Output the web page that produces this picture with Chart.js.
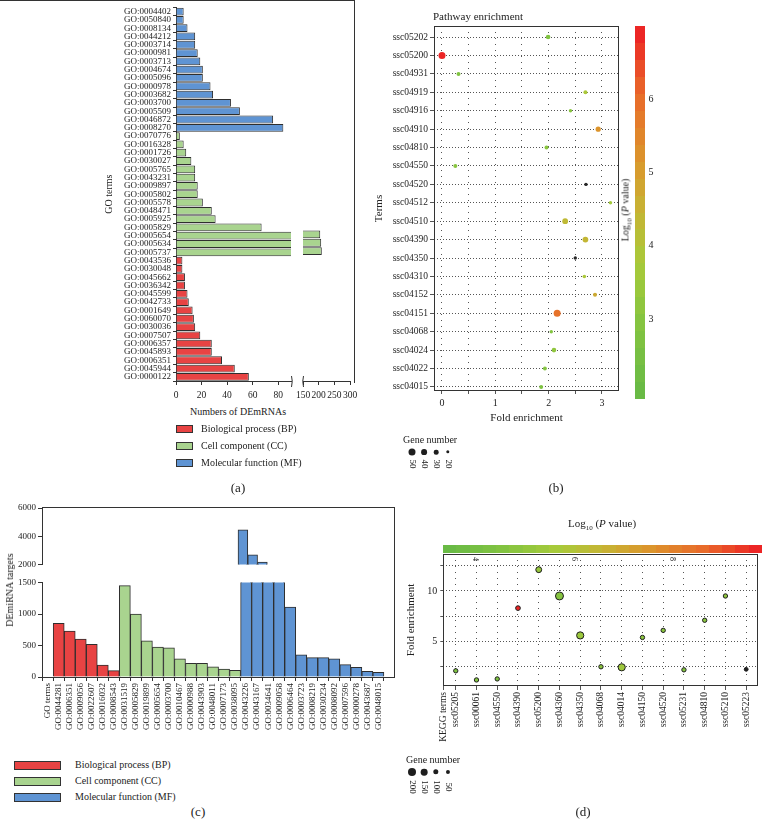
<!DOCTYPE html>
<html>
<head>
<meta charset="utf-8">
<title>GO and KEGG enrichment</title>
<script src="https://cdn.jsdelivr.net/npm/chart.js@4.4.1/dist/chart.umd.min.js"></script>
<style>
  body { margin: 0; background: #fff; }
  #page { position: relative; width: 763px; height: 820px; overflow: hidden; font-family: "Liberation Serif", serif; color: #222; }
  #page canvas { position: absolute; }
  .txt { position: absolute; white-space: nowrap; transform: translate(-50%, -50%); line-height: 1; }
  .left { transform: translate(0, -50%); }
  .vert { transform: translate(-50%, -50%) rotate(-90deg); }
  .down { transform: translate(-50%, -50%) rotate(90deg); }
  .sw { position: absolute; box-sizing: border-box; border: 1px solid #333; }
  .dot { position: absolute; border-radius: 50%; background: #1e1e1e; transform: translate(-50%, -50%); }
  .frame { position: absolute; box-sizing: border-box; border: 0 solid #333; }
  .bar { position: absolute; }
</style>
</head>
<body>
<div id="page">
  <div class="frame" style="left:0;top:0;width:355px;height:383px;border-top-width:1px;border-right-width:1px;"></div>
  <div class="frame" style="left:42px;top:507px;width:353px;height:171px;border-top-width:1px;border-right-width:1px;"></div>

  <canvas id="cA1" width="192" height="404" style="left:103px;top:0;"></canvas>
  <canvas id="cA2" width="64" height="404" style="left:294px;top:0;"></canvas>
  <canvas id="cB" width="257" height="425" style="left:373px;top:0;"></canvas>
  <canvas id="cC1" width="400" height="72" style="left:0;top:500px;"></canvas>
  <canvas id="cC2" width="400" height="182" style="left:0;top:575px;"></canvas>
  <canvas id="cD" width="358" height="215" style="left:405px;top:545px;"></canvas>

  <div id="barB" class="bar" style="left:635px;top:26px;width:10px;height:373px;"></div>
  <div id="barD" class="bar" style="left:443px;top:545px;width:319px;height:8px;"></div>
</div>

<script>
// ---------- (a) GO terms of DEmRNAs ----------
const mfTermsA = ["GO:0004402", "GO:0050840", "GO:0008134", "GO:0044212", "GO:0003714", "GO:0000981", "GO:0003713", "GO:0004674", "GO:0005096", "GO:0000978", "GO:0003682", "GO:0003700", "GO:0005509", "GO:0046872", "GO:0008270"];
const mfCountsA = [6, 6, 9, 15, 15, 17, 19, 21, 21, 27, 29, 43, 50, 76, 84];
const ccTermsA = ["GO:0070776", "GO:0016328", "GO:0001726", "GO:0030027", "GO:0005765", "GO:0043231", "GO:0009897", "GO:0005802", "GO:0005578", "GO:0048471", "GO:0005925", "GO:0005829", "GO:0005654", "GO:0005634", "GO:0005737"];
const ccCountsA = [3, 6, 8, 12, 15, 15, 17, 17, 21, 28, 31, 67, 205, 208, 210];
const bpTermsA = ["GO:0043536", "GO:0030048", "GO:0045662", "GO:0036342", "GO:0045599", "GO:0042733", "GO:0001649", "GO:0060070", "GO:0030036", "GO:0007507", "GO:0006357", "GO:0045893", "GO:0006351", "GO:0045944", "GO:0000122"];
const bpCountsA = [5, 5, 7, 7, 9, 10, 13, 14, 15, 19, 28, 28, 36, 46, 57];
const lowTicksA = [0, 20, 40, 60, 80];
const highTicksA = [150, 200, 250, 300];

// ---------- (b) KEGG pathways of DEmRNAs ----------
const pathwaysB = ["ssc05202", "ssc05200", "ssc04931", "ssc04919", "ssc04916", "ssc04910", "ssc04810", "ssc04550", "ssc04520", "ssc04512", "ssc04510", "ssc04390", "ssc04350", "ssc04310", "ssc04152", "ssc04151", "ssc04068", "ssc04024", "ssc04022", "ssc04015"];
const foldB = [1.99, 0, 0.31, 2.69, 2.41, 2.93, 1.96, 0.25, 2.7, 3.16, 2.31, 2.69, 2.5, 2.67, 2.87, 2.16, 2.05, 2.1, 1.93, 1.86];
const logPB = [2.8, 6.9, 2.8, 3.8, 3.0, 5.2, 3.0, 3.0, null, 3.6, 4.3, 4.4, null, 3.8, 4.7, 5.9, 2.9, 3.2, 2.9, 2.7];
const genesB = [30, 50, 25, 25, 20, 35, 25, 25, 20, 20, 40, 40, 20, 22, 25, 50, 20, 30, 24, 24];
const geneKeyB = [50, 40, 30, 20];
const colorTicksB = [3, 4, 5, 6];

// ---------- (c) GO terms of DEmiRNA targets ----------
const bpTermsC = ["GO:0044281", "GO:0006351", "GO:0009056", "GO:0022607", "GO:0016032", "GO:0008543"];
const bpCountsC = [850, 730, 600, 520, 190, 100];
const ccTermsC = ["GO:0031519", "GO:0005829", "GO:0019899", "GO:0005654", "GO:0003700", "GO:0010467", "GO:0000988", "GO:0043903", "GO:0048011", "GO:0007173", "GO:0038095"];
const ccCountsC = [1450, 1000, 575, 475, 462, 290, 218, 218, 162, 127, 105];
const mfTermsC = ["GO:0043226", "GO:0043167", "GO:0034641", "GO:0009058", "GO:0006464", "GO:0003723", "GO:0008219", "GO:0030234", "GO:0008092", "GO:0007596", "GO:0000278", "GO:0043687", "GO:0048015"];
const mfCountsC = [4450, 2690, 2170, 1800, 1110, 350, 308, 308, 287, 196, 154, 90, 75];

// ---------- (d) KEGG pathways of DEmiRNA targets ----------
const keggD = ["ssc05205", "ssc00061", "ssc04550", "ssc04390", "ssc05200", "ssc04360", "ssc04350", "ssc04068", "ssc04014", "ssc04150", "ssc04520", "ssc05231", "ssc04810", "ssc05210", "ssc05223"];
const foldD = [2.1, 1.2, 1.3, 8.3, 12.1, 9.5, 5.6, 2.5, 2.45, 5.4, 6.1, 2.2, 7.1, 9.5, 2.25];
const logPD = [4.4, 4.6, 4.3, 9.7, 5.2, 4.7, 5.3, 4.8, 5.4, 4.9, 4.8, 4.6, 4.8, 5.0, null];
const genesD = [60, 60, 60, 75, 120, 200, 170, 60, 170, 60, 60, 60, 60, 60, 40];
const geneKeyD = [200, 150, 100, 50];
const colorTicksD = [4, 6, 8];

const legendNames = ["Biological process (BP)", "Cell component (CC)", "Molecular function (MF)"];

const RED = "#e84343", GREEN = "#a9d48f", BLUE = "#5f94d3";
const EDGE = "#2e2e2e", AXIS = "#333";

Chart.defaults.font.family = "'Liberation Serif', serif";
Chart.defaults.color = "#222";
Chart.defaults.animation = false;
Chart.defaults.responsive = false;
Chart.defaults.plugins.legend.display = false;
Chart.defaults.plugins.tooltip.enabled = false;

// colour ramp of the P value bars
const rampStops = [[0, [102, 185, 70]], [0.2, [132, 196, 64]], [0.36, [168, 202, 58]], [0.5, [197, 181, 52]], [0.64, [219, 150, 44]], [0.82, [233, 105, 42]], [1, [236, 28, 36]]];
function rampColor(f) {
  f = Math.max(0, Math.min(1, f));
  for (let i = 1; i < rampStops.length; i++) {
    if (f <= rampStops[i][0]) {
      const a = rampStops[i - 1], b = rampStops[i];
      const t = (f - a[0]) / (b[0] - a[0]);
      return "rgb(" + a[1].map((c, k) => Math.round(c + (b[1][k] - c) * t)).join(",") + ")";
    }
  }
}
function stepGradient(dir, n) {
  const parts = [];
  for (let i = 0; i < n; i++) {
    const c = rampColor((i + 0.5) / n);
    parts.push(c + " " + (i * 100 / n) + "%", c + " " + ((i + 1) * 100 / n) + "%");
  }
  return "linear-gradient(" + dir + "," + parts.join(",") + ")";
}

const rangeB = [1.9, 7.0], rangeD = [3.34, 9.84];
const rB = n => 0.5 + n * 0.06;
const rD = n => 1.4 + n * 0.013;

const page = document.getElementById("page");
function put(html, x, y, size, cls) {
  const d = document.createElement("div");
  d.className = "txt " + (cls || "");
  d.style.left = x + "px";
  d.style.top = y + "px";
  d.style.fontSize = size + "px";
  d.innerHTML = html;
  page.appendChild(d);
}
function swatch(x, y, w, h, color) {
  const d = document.createElement("div");
  d.className = "sw";
  d.style.cssText = "left:" + x + "px;top:" + (y - h / 2) + "px;width:" + w + "px;height:" + h + "px;background:" + color;
  page.appendChild(d);
}
function dot(x, y, r) {
  const d = document.createElement("div");
  d.className = "dot";
  d.style.cssText = "left:" + x + "px;top:" + y + "px;width:" + (2 * r) + "px;height:" + (2 * r) + "px";
  page.appendChild(d);
}

const framePlugin = {
  id: "frame",
  afterDatasetsDraw(chart) {
    const { ctx, chartArea: a } = chart;
    ctx.save();
    ctx.strokeStyle = AXIS;
    ctx.lineWidth = 1;
    ctx.strokeRect(Math.round(a.left) + 0.5, Math.round(a.top) + 0.5, Math.round(a.right - a.left) - 1, Math.round(a.bottom - a.top) - 1);
    ctx.restore();
  }
};
function breakMark(side) {
  return {
    id: "brk" + side,
    afterDraw(chart) {
      const { ctx, chartArea: a } = chart;
      const x = Math.round(side === "right" ? a.right : a.left) + 0.5;
      ctx.save();
      ctx.strokeStyle = AXIS;
      ctx.beginPath();
      ctx.moveTo(x, a.bottom - 5);
      ctx.quadraticCurveTo(x + (side === "right" ? 1.5 : -1.5), a.bottom, x, a.bottom + 6);
      ctx.stroke();
      ctx.restore();
    }
  };
}

// ===== (a) =====
const termsA = [...mfTermsA, ...ccTermsA, ...bpTermsA];
const countsA = [...mfCountsA, ...ccCountsA, ...bpCountsA];
const colorsA = [...mfTermsA.map(() => BLUE), ...ccTermsA.map(() => GREEN), ...bpTermsA.map(() => RED)];
const xAxisA = (min, max, tickVals) => ({
  min: min, max: max,
  afterBuildTicks: s => { s.ticks = tickVals.map(v => ({ value: v })); },
  afterFit: s => { s.height = 23; s.paddingLeft = 0; s.paddingRight = 0; },
  ticks: { callback: v => String(v), font: { size: 9.5 }, padding: 5, maxRotation: 0, autoSkip: false },
  grid: { drawOnChartArea: false, tickLength: 4, color: AXIS },
  border: { color: AXIS }
});

new Chart(document.getElementById("cA1"), {
  type: "bar",
  data: { labels: termsA, datasets: [{ data: countsA, backgroundColor: colorsA, borderColor: EDGE, borderWidth: 1, barPercentage: 0.94, categoryPercentage: 1 }] },
  options: {
    indexAxis: "y",
    layout: { padding: { top: 4, right: 4 } },
    scales: {
      y: {
        afterFit: s => { s.width = 73; },
        ticks: { autoSkip: false, font: { size: 9 }, padding: 2 },
        grid: { drawOnChartArea: false, tickLength: 3, color: AXIS },
        border: { color: AXIS },
        title: { display: true, text: "GO terms", font: { size: 10 }, padding: 0 }
      },
      x: xAxisA(0, 90, lowTicksA)
    }
  },
  plugins: [breakMark("right")]
});

new Chart(document.getElementById("cA2"), {
  type: "bar",
  data: { labels: termsA, datasets: [{ data: countsA.map(v => v > 150 ? v : null), backgroundColor: colorsA, borderColor: EDGE, borderWidth: 1, barPercentage: 0.94, categoryPercentage: 1 }] },
  options: {
    indexAxis: "y",
    layout: { padding: { top: 4, left: 9, right: 8 } },
    scales: { y: { display: false }, x: xAxisA(150, 300, highTicksA) }
  },
  plugins: [breakMark("left")]
});

put("Numbers of DEmRNAs", 238, 412, 10);
[RED, GREEN, BLUE].forEach((c, i) => {
  swatch(176, 429 + i * 17, 17, 8, c);
  put(legendNames[i], 201, 429 + i * 17, 10, "left");
});
put("(a)", 238, 487, 13);

// ===== (b) =====
new Chart(document.getElementById("cB"), {
  type: "bubble",
  data: {
    datasets: [{
      data: pathwaysB.map((p, i) => ({ x: foldB[i], y: i, r: rB(genesB[i]) })),
      backgroundColor: logPB.map(v => v == null ? "#262626" : rampColor((v - rangeB[0]) / (rangeB[1] - rangeB[0]))),
      borderWidth: 0
    }]
  },
  options: {
    layout: { padding: { top: 26, right: 11 } },
    scales: {
      x: {
        type: "linear", min: -0.15, max: 3.32,
        afterBuildTicks: s => { s.ticks = [0, 0.5, 1, 1.5, 2, 2.5, 3].map(v => ({ value: v })); },
        afterFit: s => { s.height = 34; s.paddingLeft = 0; s.paddingRight = 0; },
        ticks: { callback: v => Number.isInteger(v) ? v : "", font: { size: 10 }, padding: 3, maxRotation: 0 },
        grid: { color: "#555", tickLength: 3 },
        border: { display: false, dash: [1, 5] },
        title: { display: true, text: "Fold enrichment", font: { size: 11 }, padding: { top: 2, bottom: 0 } }
      },
      y: {
        type: "linear", reverse: true, min: -0.6, max: 19.22,
        afterBuildTicks: s => { s.ticks = pathwaysB.map((p, i) => ({ value: i })); },
        afterFit: s => { s.width = 61; },
        ticks: { callback: v => pathwaysB[v], autoSkip: false, font: { size: 9.5 }, padding: 2 },
        grid: { color: "#555", tickLength: 4 },
        border: { display: false, dash: [1, 2] },
        title: { display: true, text: "Terms", font: { size: 11 }, padding: 0 }
      }
    }
  },
  plugins: [framePlugin]
});

put("Pathway enrichment", 433, 16, 11, "left");
document.getElementById("barB").style.background = stepGradient("to top", 22);
colorTicksB.forEach(v => put(String(v), 651, 399 - (v - rangeB[0]) / (rangeB[1] - rangeB[0]) * 373, 10));
put("Log<sub style='font-size:7px'>10</sub> (<i>P</i> value)", 627, 210, 10, "vert");
put("Gene number", 403, 440, 10, "left");
geneKeyB.forEach((n, i) => {
  dot(412 + i * 12, 452, rB(n));
  put(String(n), 412 + i * 12, 464, 9, "down");
});
put("(b)", 556, 487, 13);

// ===== (c) =====
const termsC = ["GO terms", ...bpTermsC, ...ccTermsC, ...mfTermsC];
const countsC = [...bpCountsC, ...ccCountsC, ...mfCountsC];
const colorsC = [...bpTermsC.map(() => RED), ...ccTermsC.map(() => GREEN), ...mfTermsC.map(() => BLUE)];
const xMaxC = 30.9;
const yAxisC = (min, max, step) => ({
  min: min, max: max,
  afterFit: s => { s.width = 42; },
  ticks: { stepSize: step, includeBounds: false, callback: v => String(v), font: { size: 9 }, padding: 2 },
  grid: { drawOnChartArea: false, tickLength: 4, color: AXIS },
  border: { color: AXIS }
});
const barSetC = vals => ({
  data: vals.map((v, i) => ({ x: i + 1, y: v })),
  backgroundColor: colorsC, borderColor: EDGE, borderWidth: 1,
  barPercentage: 1, categoryPercentage: 1
});

new Chart(document.getElementById("cC1"), {
  type: "bar",
  data: { datasets: [barSetC(countsC.map(v => v > 2000 ? v : null))] },
  options: {
    layout: { padding: { top: 8, right: 6, bottom: 2 } },
    scales: {
      x: { type: "linear", min: 0, max: xMaxC, display: false },
      y: yAxisC(2000, 6000, 2000)
    }
  }
});

new Chart(document.getElementById("cC2"), {
  type: "bar",
  data: { datasets: [barSetC(countsC)] },
  options: {
    layout: { padding: { top: 7.5, right: 6 } },
    scales: {
      x: {
        type: "linear", min: 0, max: xMaxC,
        afterBuildTicks: s => { s.ticks = termsC.map((t, i) => ({ value: i })); },
        afterFit: s => { s.height = 80; s.paddingLeft = 0; s.paddingRight = 0; },
        ticks: { callback: (v, i) => termsC[i], autoSkip: false, minRotation: 90, maxRotation: 90, font: { size: 9 }, padding: 2 },
        grid: { drawOnChartArea: false, tickLength: 4, color: AXIS },
        border: { color: AXIS }
      },
      y: yAxisC(0, 1500, 500)
    }
  }
});

put("DEmiRNA targets", 10, 590, 10, "vert");
[RED, GREEN, BLUE].forEach((c, i) => {
  swatch(14, 765 + i * 16, 47, 9, c);
  put(legendNames[i], 75, 765 + i * 16, 10, "left");
});
put("(c)", 198, 811, 13);

// ===== (d) =====
new Chart(document.getElementById("cD"), {
  type: "bubble",
  data: {
    datasets: [{
      data: keggD.map((k, i) => ({ x: i + 1, y: foldD[i], r: rD(genesD[i]) })),
      backgroundColor: logPD.map(v => v == null ? "#1e1e1e" : rampColor((v - rangeD[0]) / (rangeD[1] - rangeD[0]))),
      borderColor: "#1e1e1e", borderWidth: 1
    }]
  },
  options: {
    layout: { padding: { top: 8, right: 1 } },
    scales: {
      x: {
        type: "linear", min: 0.4, max: 15.57,
        afterBuildTicks: s => { s.ticks = [0.4, ...keggD.map((k, i) => i + 1)].map(v => ({ value: v })); },
        afterFit: s => { s.height = 74; s.paddingLeft = 0; s.paddingRight = 0; },
        ticks: { callback: (v, i) => i === 0 ? "KEGG terms" : keggD[i - 1], autoSkip: false, minRotation: 90, maxRotation: 90, font: { size: 9.5 }, padding: 2 },
        grid: { color: "#555", tickLength: 4 },
        border: { display: false, dash: [1, 5] }
      },
      y: {
        type: "linear", min: 0.6, max: 13.65,
        afterBuildTicks: s => { s.ticks = [2.5, 5, 7.5, 10, 12.5].map(v => ({ value: v })); },
        afterFit: s => { s.width = 38.3; },
        ticks: { callback: v => v % 5 === 0 ? v : "", font: { size: 10 }, padding: 3 },
        grid: { color: "#555", tickLength: 3 },
        border: { display: false, dash: [1, 2] },
        title: { display: true, text: "Fold enrichment", font: { size: 11 }, padding: 0 }
      }
    }
  },
  plugins: [framePlugin]
});

put("Log<sub style='font-size:7px'>10</sub> (<i>P</i> value)", 602, 525, 11);
document.getElementById("barD").style.background = stepGradient("to right", 24);
colorTicksD.forEach(v => put(String(v), 443 + (v - rangeD[0]) / (rangeD[1] - rangeD[0]) * 319, 559, 8, "down"));
put("Gene number", 406, 760, 10, "left");
geneKeyD.forEach((n, i) => {
  dot(412 + i * 12, 772, rD(n));
  put(String(n), 412 + i * 12, 787, 9, "down");
});
put("(d)", 583, 811, 13);
</script>
</body>
</html>
